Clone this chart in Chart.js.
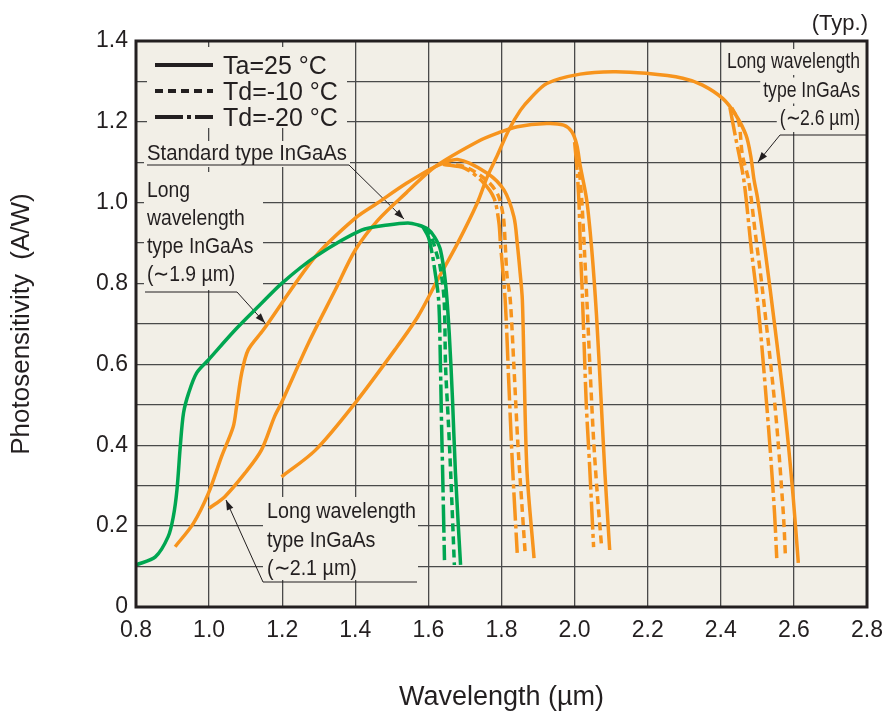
<!DOCTYPE html>
<html>
<head>
<meta charset="utf-8">
<script src="https://cdn.jsdelivr.net/npm/chart.js@4"></script>
<style>
    html, body { margin: 0; padding: 0; background: #fff; }
</style>
</head>
<body>
<canvas id="chart" width="893" height="715"></canvas>
<script>
// Photosensitivity vs wavelength (Typ.)

// Standard type InGaAs (green)
const stdTaX = [0.80, 0.853, 0.888, 0.902, 0.912, 0.921, 0.930, 0.944, 0.966, 0.998, 1.071, 1.14, 1.198, 1.29, 1.417, 1.489, 1.544, 1.571, 1.598, 1.617, 1.633, 1.647, 1.657, 1.666, 1.674, 1.688];
const stdTaY = [0.104, 0.124, 0.174, 0.223, 0.289, 0.396, 0.48, 0.529, 0.579, 0.611, 0.685, 0.748, 0.80, 0.866, 0.932, 0.945, 0.95, 0.945, 0.935, 0.915, 0.883, 0.80, 0.677, 0.512, 0.331, 0.104];
const stdTd10X = [1.590, 1.608, 1.622, 1.632, 1.643, 1.647, 1.655, 1.661, 1.671];
const stdTd10Y = [0.937, 0.915, 0.875, 0.842, 0.759, 0.594, 0.45, 0.331, 0.104];
const stdTd20X = [1.585, 1.600, 1.610, 1.616, 1.628, 1.633, 1.636, 1.639, 1.644];
const stdTd20Y = [0.940, 0.915, 0.875, 0.842, 0.759, 0.594, 0.45, 0.331, 0.116];

// Long wavelength type InGaAs (~1.9 um)
const lw19TaX = [0.907, 0.957, 0.998, 1.034, 1.066, 1.075, 1.089, 1.107, 1.148, 1.29, 1.40, 1.462, 1.54, 1.618, 1.68, 1.761, 1.807, 1.834, 1.843, 1.851, 1.857, 1.862, 1.870, 1.889];
const lw19TaY = [0.149, 0.207, 0.281, 0.372, 0.446, 0.495, 0.578, 0.636, 0.685, 0.866, 0.962, 1.0, 1.048, 1.089, 1.107, 1.073, 1.031, 0.965, 0.90, 0.826, 0.76, 0.579, 0.331, 0.121];
const lw19Td10X = [1.64, 1.70, 1.76, 1.79, 1.805, 1.81, 1.815, 1.824, 1.834, 1.845, 1.856, 1.865];
const lw19Td10Y = [1.095, 1.089, 1.055, 1.02, 0.965, 0.90, 0.82, 0.759, 0.594, 0.40, 0.25, 0.129];
const lw19Td20X = [1.64, 1.70, 1.75, 1.78, 1.793, 1.797, 1.81, 1.82, 1.83, 1.843];
const lw19Td20Y = [1.095, 1.085, 1.05, 1.01, 0.95, 0.90, 0.76, 0.553, 0.35, 0.134];

// Long wavelength type InGaAs (~2.1 um)
const lw21TaX = [1.0, 1.043, 1.098, 1.143, 1.179, 1.198, 1.272, 1.345, 1.40, 1.462, 1.54, 1.618, 1.734, 1.789, 1.843, 1.924, 1.97, 1.992, 2.006, 2.015, 2.033, 2.047, 2.06, 2.072, 2.083, 2.096];
const lw21TaY = [0.244, 0.273, 0.331, 0.388, 0.471, 0.505, 0.653, 0.784, 0.883, 0.957, 1.025, 1.089, 1.151, 1.172, 1.188, 1.196, 1.192, 1.176, 1.143, 1.093, 1.007, 0.883, 0.72, 0.52, 0.33, 0.141];
const lw21Td10X = [2.004, 2.012, 2.02, 2.027, 2.034, 2.042, 2.052, 2.062, 2.074];
const lw21Td10Y = [1.14, 1.09, 1.0, 0.88, 0.75, 0.594, 0.413, 0.28, 0.148];
const lw21Td20X = [2.0, 2.006, 2.012, 2.016, 2.02, 2.026, 2.032, 2.041, 2.052];
const lw21Td20Y = [1.15, 1.09, 1.0, 0.88, 0.80, 0.65, 0.5, 0.35, 0.148];

// Long wavelength type InGaAs (~2.6 um)
const lw26TaX = [1.198, 1.291, 1.40, 1.508, 1.571, 1.625, 1.68, 1.734, 1.761, 1.789, 1.82, 1.852, 1.879, 1.924, 2.015, 2.106, 2.196, 2.296, 2.35, 2.405, 2.441, 2.469, 2.482, 2.491, 2.50, 2.522, 2.549, 2.576, 2.598, 2.612];
const lw26TaY = [0.322, 0.388, 0.505, 0.636, 0.718, 0.809, 0.90, 1.0, 1.064, 1.118, 1.18, 1.229, 1.258, 1.295, 1.318, 1.324, 1.32, 1.308, 1.291, 1.258, 1.217, 1.167, 1.115, 1.056, 1.014, 0.876, 0.685, 0.48, 0.272, 0.109];
const lw26Td10X = [2.43, 2.449, 2.459, 2.476, 2.495, 2.514, 2.55, 2.571, 2.577];
const lw26Td10Y = [1.235, 1.20, 1.118, 1.056, 0.92, 0.784, 0.48, 0.232, 0.121];
const lw26Td20X = [2.425, 2.441, 2.463, 2.484, 2.504, 2.531, 2.547, 2.553];
const lw26Td20Y = [1.235, 1.159, 1.056, 0.88, 0.727, 0.438, 0.232, 0.121];

// Axis ranges and legend
const xMin = 0.8, xMax = 2.8, xStep = 0.2;
const yMin = 0, yMax = 1.4, yStep = 0.1;
const legendLabels = ['Ta=25 °C', 'Td=-10 °C', 'Td=-20 °C'];

const INK = '#231f20';
const GREEN = '#00a651';
const ORANGE = '#f7941d';
const PLOT_BG = '#f2efe7';
const GRID = '#4a4a4a';
const SANS = "'Liberation Sans', Arial, Helvetica, sans-serif";
const DASH_10 = [8, 5];
const DASH_20 = [28, 4, 4, 4];

function series(xs, ys, color, dash) {
    return {
        data: xs.map((x, i) => ({ x: x, y: ys[i] })),
        borderColor: color,
        borderWidth: 3.5,
        borderDash: dash,
        showLine: true,
        pointRadius: 0,
        tension: 0.3,
        fill: false
    };
}

function arrow(ctx, pts) {
    ctx.save();
    ctx.strokeStyle = INK;
    ctx.fillStyle = INK;
    ctx.lineWidth = 1;
    ctx.beginPath();
    ctx.moveTo(pts[0][0], pts[0][1]);
    for (let i = 1; i < pts.length; i++) ctx.lineTo(pts[i][0], pts[i][1]);
    ctx.stroke();
    const [x1, y1] = pts[pts.length - 2];
    const [x2, y2] = pts[pts.length - 1];
    const a = Math.atan2(y2 - y1, x2 - x1);
    const L = 10, W = 3.5;
    ctx.beginPath();
    ctx.moveTo(x2, y2);
    ctx.lineTo(x2 - L * Math.cos(a) + W * Math.sin(a), y2 - L * Math.sin(a) - W * Math.cos(a));
    ctx.lineTo(x2 - L * Math.cos(a) - W * Math.sin(a), y2 - L * Math.sin(a) + W * Math.cos(a));
    ctx.closePath();
    ctx.fill();
    ctx.restore();
}

// condensed text: first line squeezed to firstWidth, others use same factor
function label(ctx, lines, x, baseline, gap, align, firstWidth, box, boxRight) {
    ctx.save();
    ctx.font = '22px ' + SANS;
    ctx.textAlign = align;
    ctx.textBaseline = 'alphabetic';
    const sx = firstWidth / ctx.measureText(lines[0]).width;
    ctx.fillStyle = PLOT_BG;
    if (box) {
        ctx.fillRect(box[0], box[1], box[2], box[3]);
    } else {
        lines.forEach((t, i) => {
            const y = baseline + i * gap;
            const w = ctx.measureText(t).width * sx;
            const left = align === 'right' ? x - w : x;
            const right = boxRight || (left + w + 3);
            ctx.fillRect(left - 3, y - 19, right - left + 3, 26);
        });
    }
    ctx.fillStyle = INK;
    ctx.translate(x, 0);
    ctx.scale(sx, 1);
    lines.forEach((t, i) => ctx.fillText(t, 0, baseline + i * gap));
    ctx.restore();
}

const decor = {
    id: 'decor',
    beforeDraw(chart) {
        const { ctx, chartArea: a } = chart;
        ctx.save();
        ctx.fillStyle = PLOT_BG;
        ctx.fillRect(a.left, a.top, a.right - a.left, a.bottom - a.top);
        ctx.restore();
    },
    beforeDatasetsDraw(chart) {
        const ctx = chart.ctx;

        // legend
        ctx.save();
        ctx.fillStyle = PLOT_BG;
        ctx.fillRect(147, 47, 200, 81);
        const rows = [65, 91, 117];
        const dashes = [[], DASH_10, DASH_20];
        rows.forEach((y, i) => {
            ctx.strokeStyle = INK;
            ctx.lineWidth = 4;
            ctx.setLineDash(dashes[i]);
            ctx.beginPath();
            ctx.moveTo(155, y);
            ctx.lineTo(213, y);
            ctx.stroke();
            ctx.setLineDash([]);
            ctx.fillStyle = INK;
            ctx.font = '25px ' + SANS;
            ctx.textAlign = 'left';
            ctx.textBaseline = 'alphabetic';
            ctx.fillText(legendLabels[i], 223, y + 9);
        });
        ctx.restore();

        // curve labels
        label(ctx, ['Standard type InGaAs'], 147, 160, 0, 'left', 200, null);
        arrow(ctx, [[147, 165], [349, 165], [404, 219]]);

        label(ctx, ['Long', 'wavelength', 'type InGaAs', '(∼1.9 µm)'], 147, 197, 28, 'left', 43, [144, 172, 119, 118]);
        arrow(ctx, [[145, 292], [237, 292], [265, 323]]);

        label(ctx, ['Long wavelength', 'type InGaAs', '(∼2.1 µm)'], 267, 518, 28.5, 'left', 149, [263, 497, 155, 83]);
        arrow(ctx, [[417, 582], [263, 582], [226, 500]]);

        label(ctx, ['Long wavelength', 'type InGaAs', '(∼2.6 µm)'], 860, 68, 28.5, 'right', 133, null, 868);
        arrow(ctx, [[868, 135], [780, 135], [758, 162]]);
    },
    afterDatasetsDraw(chart) {
        const { ctx, chartArea: a } = chart;
        ctx.save();
        ctx.strokeStyle = INK;
        ctx.lineWidth = 3;
        ctx.strokeRect(a.left, a.top, a.right - a.left, a.bottom - a.top);
        ctx.fillStyle = INK;
        ctx.font = '22px ' + SANS;
        ctx.textAlign = 'right';
        ctx.textBaseline = 'alphabetic';
        ctx.fillText('(Typ.)', a.right + 1, 30);
        ctx.restore();
    }
};

new Chart(document.getElementById('chart'), {
    type: 'scatter',
    data: {
        datasets: [
            series(stdTaX, stdTaY, GREEN, []),
            series(stdTd10X, stdTd10Y, GREEN, DASH_10),
            series(stdTd20X, stdTd20Y, GREEN, DASH_20),
            series(lw19TaX, lw19TaY, ORANGE, []),
            series(lw19Td10X, lw19Td10Y, ORANGE, DASH_10),
            series(lw19Td20X, lw19Td20Y, ORANGE, DASH_20),
            series(lw21TaX, lw21TaY, ORANGE, []),
            series(lw21Td10X, lw21Td10Y, ORANGE, DASH_10),
            series(lw21Td20X, lw21Td20Y, ORANGE, DASH_20),
            series(lw26TaX, lw26TaY, ORANGE, []),
            series(lw26Td10X, lw26Td10Y, ORANGE, DASH_10),
            series(lw26Td20X, lw26Td20Y, ORANGE, DASH_20)
        ]
    },
    options: {
        responsive: false,
        animation: false,
        devicePixelRatio: 1,
        layout: { padding: { top: 41, right: 21, left: 0, bottom: 0 } },
        plugins: {
            legend: { display: false },
            tooltip: { enabled: false }
        },
        scales: {
            x: {
                type: 'linear',
                min: xMin,
                max: xMax,
                afterFit: (s) => { s.height = 108; },
                border: { display: false },
                grid: { color: GRID, lineWidth: 1.3, drawTicks: false },
                ticks: {
                    stepSize: xStep,
                    autoSkip: false,
                    maxRotation: 0,
                    padding: 10,
                    color: INK,
                    font: { family: SANS, size: 23 },
                    callback: (v) => v.toFixed(1)
                },
                title: {
                    display: true,
                    text: 'Wavelength (µm)',
                    color: INK,
                    font: { family: SANS, size: 27, lineHeight: 1.2 },
                    padding: { top: 0, bottom: 1 }
                }
            },
            y: {
                min: yMin,
                max: yMax,
                afterFit: (s) => { s.width = 136; },
                border: { display: false },
                grid: { color: GRID, lineWidth: 1.3, drawTicks: false },
                ticks: {
                    stepSize: yStep,
                    autoSkip: false,
                    padding: 8,
                    color: INK,
                    font: { family: SANS, size: 23 },
                    callback: (v) => {
                        const k = Math.round(v * 10);
                        if (k % 2) return '';
                        return k === 0 ? '0' : v.toFixed(1);
                    }
                },
                title: {
                    display: true,
                    text: 'Photosensitivity  (A/W)',
                    color: INK,
                    font: { family: SANS, size: 26, lineHeight: 1.2 },
                    padding: { top: 6, bottom: 0 }
                }
            }
        }
    },
    plugins: [decor]
});
</script>
</body>
</html>
